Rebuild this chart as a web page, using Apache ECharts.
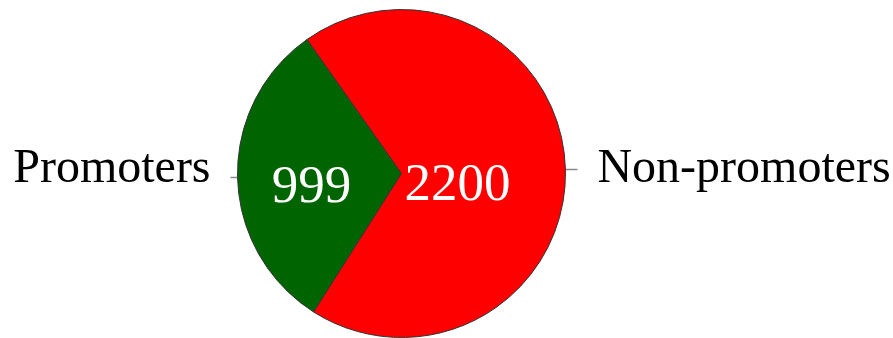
<!DOCTYPE html>
<html>
<head>
<meta charset="utf-8">
<style>
  html, body { margin: 0; padding: 0; background: #ffffff; }
  #chart { width: 893px; height: 338px; }
</style>
<script src="https://cdn.jsdelivr.net/npm/echarts@6/dist/echarts.min.js"></script>
</head>
<body>
<div id="chart"></div>
<script>
// Promoter split
const categories = ['Promoters', 'Non-promoters'];
const counts = [999, 2200];
const sliceColors = ['#006400', '#ff0000'];

// Per-slice label tweaks (leader line lengths, name lift, value label nudges)
const lineLen = { 'Promoters': [3, 4], 'Non-promoters': [4, 8] };
const nameLift = { 'Promoters': -8, 'Non-promoters': 0 };
const valueOffset = { 'Promoters': [-5, 13], 'Non-promoters': [-29, 15] };

const FONT = '"Liberation Serif", "Times New Roman", serif';
const center = [401.5, 173.5];
const radius = 164;
const startAngle = 237.6;

const sliceData = categories.map((name, i) => ({
  name,
  value: counts[i],
  itemStyle: { color: sliceColors[i] },
  labelLine: { length: lineLen[name][0], length2: lineLen[name][1] }
}));

const valueData = categories.map((name, i) => ({
  name,
  value: counts[i],
  label: { offset: valueOffset[name] }
}));

const chart = echarts.init(document.getElementById('chart'), null, { renderer: 'canvas' });
chart.setOption({
  animation: false,
  backgroundColor: '#ffffff',
  series: [
    {
      type: 'pie',
      center,
      radius,
      startAngle,
      clockwise: true,
      avoidLabelOverlap: false,
      itemStyle: { borderColor: '#333333', borderWidth: 1 },
      emphasis: { disabled: true },
      label: {
        show: true,
        position: 'outside',
        formatter: '{b}',
        color: '#000000',
        fontFamily: FONT,
        fontSize: 48,
        distanceToLabelLine: 20
      },
      labelLine: {
        show: true,
        lineStyle: { color: '#888888', width: 1.5 }
      },
      labelLayout: function (params) {
        return { dy: nameLift[categories[params.dataIndex]] };
      },
      data: sliceData
    },
    {
      type: 'pie',
      center,
      radius,
      startAngle,
      clockwise: true,
      silent: true,
      avoidLabelOverlap: false,
      itemStyle: { color: 'transparent', borderWidth: 0 },
      emphasis: { disabled: true },
      label: {
        show: true,
        position: 'inside',
        formatter: '{c}',
        color: '#ffffff',
        fontFamily: FONT,
        fontSize: 53
      },
      labelLine: { show: false },
      data: valueData
    }
  ]
});
</script>
</body>
</html>
